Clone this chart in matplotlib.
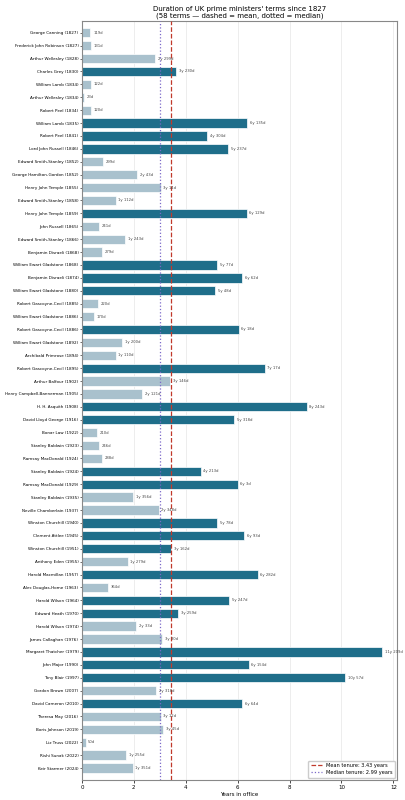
import matplotlib
matplotlib.use("Agg")
import matplotlib.pyplot as plt
import numpy as np

names = [
    "George Canning (1827)", "Frederick John Robinson (1827)", "Arthur Wellesley (1828)",
    "Charles Grey (1830)", "William Lamb (1834)", "Arthur Wellesley (1834)", "Robert Peel (1834)",
    "William Lamb (1835)", "Robert Peel (1841)", "Lord John Russell (1846)",
    "Edward Smith-Stanley (1852)", "George Hamilton-Gordon (1852)", "Henry John Temple (1855)",
    "Edward Smith-Stanley (1858)", "Henry John Temple (1859)", "John Russell (1865)",
    "Edward Smith-Stanley (1866)", "Benjamin Disraeli (1868)", "William Ewart Gladstone (1868)",
    "Benjamin Disraeli (1874)", "William Ewart Gladstone (1880)", "Robert Gascoyne-Cecil (1885)",
    "William Ewart Gladstone (1886)", "Robert Gascoyne-Cecil (1886)", "William Ewart Gladstone (1892)",
    "Archibald Primrose (1894)", "Robert Gascoyne-Cecil (1895)", "Arthur Balfour (1902)",
    "Henry Campbell-Bannerman (1905)", "H. H. Asquith (1908)", "David Lloyd George (1916)",
    "Bonar Law (1922)", "Stanley Baldwin (1923)", "Ramsay MacDonald (1924)", "Stanley Baldwin (1924)",
    "Ramsay MacDonald (1929)", "Stanley Baldwin (1935)", "Neville Chamberlain (1937)",
    "Winston Churchill (1940)", "Clement Attlee (1945)", "Winston Churchill (1951)",
    "Anthony Eden (1955)", "Harold Macmillan (1957)", "Alec Douglas-Home (1963)",
    "Harold Wilson (1964)", "Edward Heath (1970)", "Harold Wilson (1974)", "James Callaghan (1976)",
    "Margaret Thatcher (1979)", "John Major (1990)", "Tony Blair (1997)", "Gordon Brown (2007)",
    "David Cameron (2010)", "Theresa May (2016)", "Boris Johnson (2019)", "Liz Truss (2022)",
    "Rishi Sunak (2022)", "Keir Starmer (2024)",
]

tenure_days = [
    119, 131, 1029, 1325, 122, 23, 120, 2325, 1764, 2062,
    299, 773, 1109, 477, 2319, 241, 608, 279, 1902, 2252,
    1873, 220, 170, 2208, 565, 475, 2572, 1241, 851, 3163,
    2143, 210, 246, 288, 1673, 2193, 721, 1078, 1903, 2283,
    1257, 644, 2472, 364, 2072, 1354, 763, 1125, 4224, 2344,
    3707, 1048, 2254, 1107, 1140, 50, 620, 716,
]

days = np.array(tenure_days)
years = days / 365.25
mean_y = years.mean()
median_y = np.median(years)

DARK = "#1f6e8a"
LIGHT = "#a9c1cd"
colors = [DARK if y > mean_y else LIGHT for y in years]

def fmt(d):
    y, r = divmod(int(d), 365)
    return f"{y}y {r}d" if y > 0 else f"{r}d"

fig = plt.figure(figsize=(4.06, 8.0), dpi=100)
ax = fig.add_axes([0.202, 0.025, 0.776, 0.949])

pos = np.arange(len(names))
ax.barh(pos, years, height=0.72, color=colors, edgecolor="white", linewidth=0.5, zorder=2)
for p, y, d in zip(pos, years, tenure_days):
    ax.text(y + 0.1, p, fmt(d), va="center", ha="left", fontsize=2.7, color="#444444", zorder=4)

ax.axvline(mean_y, color="#c0392b", linestyle="--", linewidth=0.9, zorder=3,
           label=f"Mean tenure: {mean_y:.2f} years")
ax.axvline(median_y, color="#7b68c8", linestyle=":", linewidth=0.9, zorder=3,
           label=f"Median tenure: {median_y:.2f} years")

ax.set_yticks(pos)
ax.set_yticklabels(names, fontsize=3)
ax.set_ylim(len(names) - 1 + 0.93, -0.93)
ax.set_xlim(0, years.max() * 1.05)
ax.set_xticks([0, 2, 4, 6, 8, 10, 12])
ax.tick_params(axis="x", labelsize=4, length=2, width=0.5, pad=1.5)
ax.tick_params(axis="y", length=1.5, width=0.4, pad=1)
ax.grid(axis="x", color="#e6e6e6", linewidth=0.5, zorder=0)
ax.set_axisbelow(True)
for s in ax.spines.values():
    s.set_color("#888888")
    s.set_linewidth(0.8)
ax.set_xlabel("Years in office", fontsize=4, labelpad=1.5)
ax.set_title("Duration of UK prime ministers' terms since 1827\n(58 terms \u2014 dashed = mean, dotted = median)",
             fontsize=5, pad=2.5, linespacing=1.1)
ax.legend(loc="lower right", fontsize=3.6, frameon=True, framealpha=1, edgecolor="#cccccc",
          borderpad=0.5, handlelength=2.2, labelspacing=0.4)

fig.savefig("out.png", dpi=100)
